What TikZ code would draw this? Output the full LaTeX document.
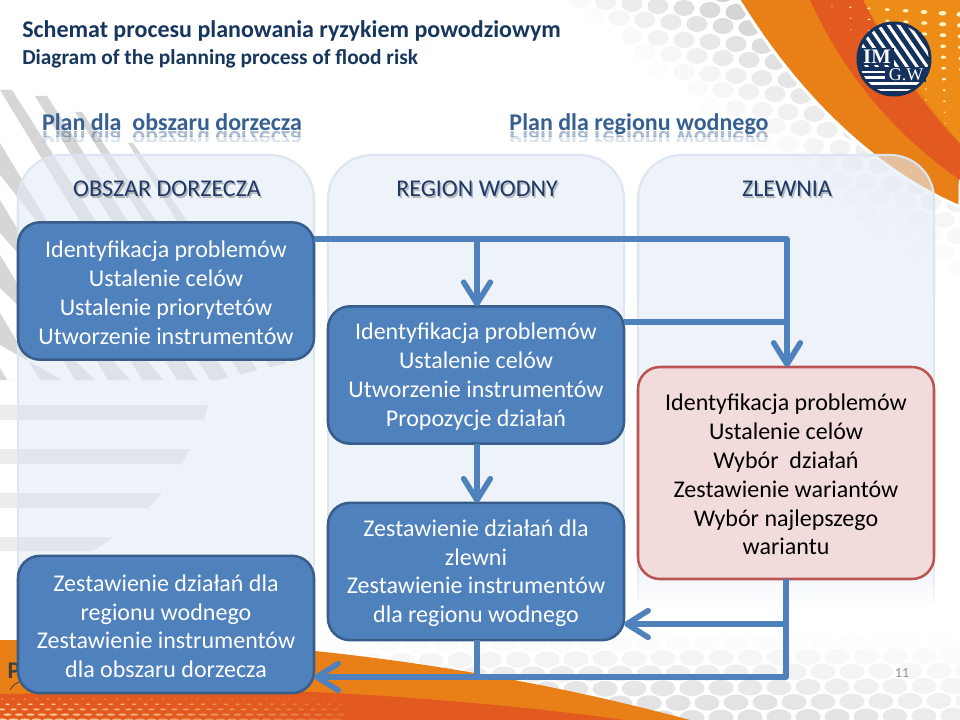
\documentclass[tikz,border=0pt]{standalone}
\usepackage{fontspec}
\setmainfont{Carlito}
\newfontfamily\logofont{Liberation Serif}
\usetikzlibrary{arrows.meta,fadings}
\definecolor{boxblue}{HTML}{4F81BD}
\definecolor{boxedge}{HTML}{385D8A}
\definecolor{redfill}{HTML}{F2DCDB}
\definecolor{rededge}{HTML}{BA5553}
\definecolor{colfill}{HTML}{E3EBF5}
\definecolor{coledge}{HTML}{DCE6F1}
\definecolor{titlecol}{HTML}{17365D}
\definecolor{plancol}{HTML}{376092}
\definecolor{headcol}{HTML}{1F3864}
\definecolor{orangeA}{HTML}{E98017}
\definecolor{orangeC}{HTML}{EE8C18}
\definecolor{redB}{HTML}{E25A1F}
\definecolor{dotcol}{HTML}{FFF2C0}
\definecolor{navy}{HTML}{13315C}
\tikzfading[name=colfade,top color=transparent!0,bottom color=transparent!100]
\newcommand{\tp}{\rule{0pt}{15pt}}
\tikzset{
  procbox/.style={draw=boxedge,fill=boxblue,line width=1.9pt,rounded corners=16.5pt,
    minimum width=222pt,minimum height=103pt,outer sep=0pt,inner sep=0pt,align=center,
    text=white,font=\fontsize{18}{21.6}\selectfont},
  redbox/.style={procbox,draw=rededge,fill=redfill,text=black,minimum height=159pt},
  link/.style={draw=boxblue,line width=4.2pt},
  arrowlink/.style={link,-{Straight Barb[length=16pt,width=20pt,round]}},
  colhead/.style={font=\fontsize{18}{20}\selectfont,text=headcol},
  colshadow/.style={font=\fontsize{18}{20}\selectfont,text=black,opacity=.25},
  planhead/.style={font=\bfseries\fontsize{18}{20}\selectfont,text=plancol},
  strip/.style={fill=gray!32},
  hstrip/.style={fill=gray!24},
}
\newcommand{\reflected}[3]{%
  \begin{scope}
    \clip (#1-150,132) rectangle (#1+150,137);
    \begin{scope}[shift={(#1,#2)},yscale=-1]
      \node[planhead,transform shape,anchor=base,opacity=.42] {#3};
    \end{scope}
  \end{scope}
  \begin{scope}
    \clip (#1-150,137) rectangle (#1+150,142);
    \begin{scope}[shift={(#1,#2)},yscale=-1]
      \node[planhead,transform shape,anchor=base,opacity=.18] {#3};
    \end{scope}
  \end{scope}}
\newcommand{\columnshape}[2]{%
  \path[fill=colfill,fill opacity=.6,rounded corners=33pt] (#1,560) [sharp corners] -- (#1,300) [rounded corners=33pt] -- (#1,155) -- (#2,155) -- (#2,300) [sharp corners] -- (#2,560) -- cycle;
  \begin{scope}[opacity=.6]
    \path[fill=colfill,path fading=colfade] (#1,560) rectangle (#2,605);
  \end{scope}
  \draw[coledge,line width=1.6pt,rounded corners=33pt] (#1,300) -- (#1,155) -- (#2,155) -- (#2,300);
  \draw[coledge,line width=1.6pt] (#1,300) -- (#1,560);
  \draw[coledge,line width=1.6pt] (#2,300) -- (#2,560);
  \foreach \s in {0,...,8}{
    \pgfmathsetmacro\op{1-\s/9}
    \draw[coledge,line width=1.6pt,opacity=\op] (#1,560+\s*5) -- (#1,565+\s*5);
    \draw[coledge,line width=1.6pt,opacity=\op] (#2,560+\s*5) -- (#2,565+\s*5);
  }}
\begin{document}
\begin{tikzpicture}[x=.75pt,y=-.75pt]
\useasboundingbox (0,0) rectangle (960,720);
\fill[white] (0,0) rectangle (960,720);
% grey dots, top right
\foreach \i in {0,...,17}{\foreach \j in {-2,...,15}{
  \pgfmathsetmacro\dx{580+\i*26+mod(\j+20,2)*13}
  \pgfmathsetmacro\dy{\j*16+\i*2}
  \pgfmathsetmacro\vv{min(1,(\dx-560-1.3*\dy)/250)*(1-\dy/330)}
  \ifdim\vv pt>0.02pt
    \pgfmathsetmacro\cc{\vv*27}
    \fill[black!\cc] (\dx,\dy) ellipse [x radius=10.5,y radius=8];
  \fi}}
% grey dots, bottom right
\foreach \i in {0,...,24}{\foreach \j in {0,...,5}{
  \pgfmathsetmacro\dx{330+\i*29+mod(\j,2)*14}
  \pgfmathsetmacro\dy{646+\j*15-\i*.25}
  \pgfmathsetmacro\vv{max(0,(\dy-636)/60)*min(1,(\dx-300)/150)*(1-max(0,\dx-720)/420)}
  \pgfmathsetmacro\cc{min(11,\vv*11)}
  \fill[black!\cc] (\dx,\dy) ellipse [x radius=12.5,y radius=8];}}
% diagonal grey strips
\begin{scope}
  \clip (0,80) -- (300,80) -- (300,360) -- (217,380) -- (0,380) -- cycle;
  \fill[strip] (0,90) -- (12,90) -- (197,380) -- (177,380) -- cycle;
  \fill[strip] (35,96) -- (47,96) -- (230,380) -- (210,380) -- cycle;
  \fill[strip] (75,112) -- (82,112) -- (264,380) -- (244,380) -- cycle;
  \fill[strip] (128,143) -- (133,143) -- (298,380) -- (278,380) -- cycle;
  \fill[strip] (0,143) -- (0,175) -- (163,380) -- (142,380) -- cycle;
  \fill[strip] (0,200) -- (0,233) -- (130,380) -- (108,380) -- cycle;
  \fill[strip] (0,255) -- (0,288) -- (95,380) -- (75,380) -- cycle;
  \fill[strip] (0,313) -- (0,345) -- (62,380) -- (40,380) -- cycle;
  \fill[strip] (0,368) -- (0,380) -- (27,380) -- (7,380) -- cycle;
\end{scope}
% horizontal grey strips
\fill[hstrip] (0,405) -- (208,405) -- (204,420) -- (0,420) -- cycle;
\fill[hstrip] (0,449) -- (190,449) -- (182,464) -- (0,464) -- cycle;
\fill[hstrip] (0,493) -- (162,493) -- (148,508) -- (0,508) -- cycle;
\fill[hstrip] (0,537) -- (114,537) -- (93,551) -- (0,551) -- cycle;
\fill[white,opacity=.4] (0,400) rectangle (17,556);
% top-right orange
\draw[white,line width=2.4pt,fill=orangeA] (737,-3) .. controls (775,60) and (850,160) .. (960,207) -- (963,-3) -- cycle;
\fill[orangeC] (863,0) .. controls (885,35) and (910,85) .. (960,143) -- (960,0) -- cycle;
\fill[redB] (810,0) .. controls (835,55) and (880,125) .. (960,180) -- (960,143) .. controls (925,110) and (890,55) .. (863,0) -- cycle;
\foreach \i in {0,...,7}{\foreach \j in {0,...,24}{
  \pgfmathsetmacro\dx{832+\i*18.4+\j*.25}
  \pgfmathsetmacro\dy{6+\j*11+\i*1.2}
  \pgfmathsetmacro\rr{(\dx-800-\dy*.95)/36}
  \ifdim\rr pt>0.6pt
    \pgfmathsetmacro\rx{min(6.5,\rr*1.1)}
    \pgfmathsetmacro\ry{min(3.6,\rr*.65)}
    \fill[dotcol] (\dx,\dy) ellipse [x radius=\rx,y radius=\ry];
  \fi}}
% bottom orange
\fill[orangeA] (0,640) .. controls (120,640) and (230,641) .. (315,651) .. controls (430,663) and (560,685) .. (690,720) -- (0,720) -- cycle;
\fill[redB] (0,694) .. controls (120,692) and (240,690) .. (315,692) .. controls (420,697) and (540,708) .. (624,720) -- (0,720) -- cycle;
\foreach \j in {0,...,4}{\foreach \i in {0,...,29}{
  \pgfmathsetmacro\dx{2+\i*11.5+mod(\j,2)*5.5}
  \pgfmathsetmacro\dy{699+\j*5.2}
  \pgfmathsetmacro\rx{1.4+\j*.9}
  \pgfmathsetmacro\op{.8*(1-\dx/430)}
  \fill[dotcol,opacity=\op] (\dx,\dy) ellipse [x radius=\rx,y radius=.5+\j*.22];}}
\node[font=\bfseries\fontsize{18}{20}\selectfont,text=black!75] (hiddenletter) at (14,671) {P};
\coordinate (swooshA) at (10,690);
\coordinate (swooshB) at (24,680);
\draw[black!75,line width=.6pt] (swooshA) .. controls (14,684) .. (swooshB);
% logo
\fill[navy] (894,59) circle (37.5);
\begin{scope}
  \clip (894,59) circle (34.5);
  \begin{scope}
    \clip (850,15) rectangle (936,67);
    \foreach \k in {0,...,14}{\draw[white,line width=2.3pt] (818+\k*10,10) -- (818+\k*10+62,100);}
  \end{scope}
  \foreach \ly in {72,77.5,83.5,90}{\draw[white,line width=2.1pt] (850,\ly) -- (936,\ly);}
\end{scope}
\fill[navy] (859,48) rectangle (894,65);
\fill[navy] (885,67) rectangle (926,82);
\node[font=\logofont\bfseries\fontsize{15.5}{18}\selectfont,text=white,inner sep=0pt] (logoA) at (877,57) {IM};
\node[font=\logofont\fontsize{13.5}{18}\selectfont,text=white,inner sep=0pt] (logoB) at (906,75) {G.W};
% columns
\columnshape{18}{314}
\columnshape{328}{624}
\columnshape{638}{934}
% titles
\node[anchor=base west,inner sep=0pt,font=\bfseries\fontsize{18}{20}\selectfont,text=titlecol] (title) at (22,38) {Schemat procesu planowania ryzykiem powodziowym};
\node[anchor=base west,inner sep=0pt,font=\bfseries\fontsize{16}{18}\selectfont,text=titlecol] (subtitle) at (22,65) {Diagram of the planning process of flood risk};
\reflected{172}{132}{Plan dla\ \ obszaru dorzecza}
\reflected{639}{132}{Plan dla regionu wodnego}
\node[planhead,anchor=base] (planA) at (172,131) {Plan dla\ \ obszaru dorzecza};
\node[planhead,anchor=base] (planB) at (639,131) {Plan dla regionu wodnego};
% column heads
\node[colshadow,anchor=base] (shA) at (168.5,198.5) {OBSZAR DORZECZA};
\node[colshadow,anchor=base] (shB) at (478.5,198.5) {REGION WODNY};
\node[colshadow,anchor=base] (shC) at (788.5,198.5) {ZLEWNIA};
\node[colhead,anchor=base] (headA) at (167,197) {OBSZAR DORZECZA};
\node[colhead,anchor=base] (headB) at (477,197) {REGION WODNY};
\node[colhead,anchor=base] (headC) at (787,197) {ZLEWNIA};
% junctions
\coordinate (jTop) at (787,239);
\coordinate (jMid) at (787,322);
\coordinate (jBranch) at (477,239);
\coordinate (jRet) at (786,624);
\coordinate (jCorner) at (786,677);
\coordinate (jBottom) at (477,677);
% boxes
\node[procbox] (b1) at (166,291) {\tp Identyfikacja problemów\\Ustalenie celów\\Ustalenie priorytetów\\Utworzenie instrumentów};
\node[procbox] (b2) at (476,375) {\tp Identyfikacja problemów\\Ustalenie celów\\Utworzenie instrumentów\\Propozycje działań};
\node[procbox] (b3) at (476,571.5) {\tp Zestawienie działań dla\\zlewni\\Zestawienie instrumentów\\dla regionu wodnego};
\node[procbox] (b4) at (166,624.5) {\tp Zestawienie działań dla\\regionu wodnego\\Zestawienie instrumentów\\dla obszaru dorzecza};
\node[redbox] (r) at (786,473) {\tp Identyfikacja problemów\\Ustalenie celów\\Wybór\ \ działań\\Zestawienie wariantów\\Wybór najlepszego\\wariantu};
% connectors
\draw[link,line join=round] (b1.east |- jTop) -- (jTop) -- (jMid);
\draw[arrowlink] (jTop) -- (jTop |- r.north);
\draw[arrowlink] (jBranch) -- (jBranch |- b2.north);
\draw[link] (b2.east |- jMid) -- (jMid);
\draw[arrowlink] (b2.south -| jBranch) -- (b3.north -| jBranch);
\draw[link,line join=round] (r.south -| jRet) -- (jCorner) -- (jBottom);
\draw[arrowlink] (jRet) -- (b3.east |- jRet);
\draw[link] (b3.south -| jBottom) -- (jBottom);
\draw[arrowlink] (jBottom) -- (b4.east |- jBottom);
% page number
\node[font=\fontsize{10.5}{12}\selectfont,text=gray!85] (pageno) at (902,673) {11};
\end{tikzpicture}
\end{document}
